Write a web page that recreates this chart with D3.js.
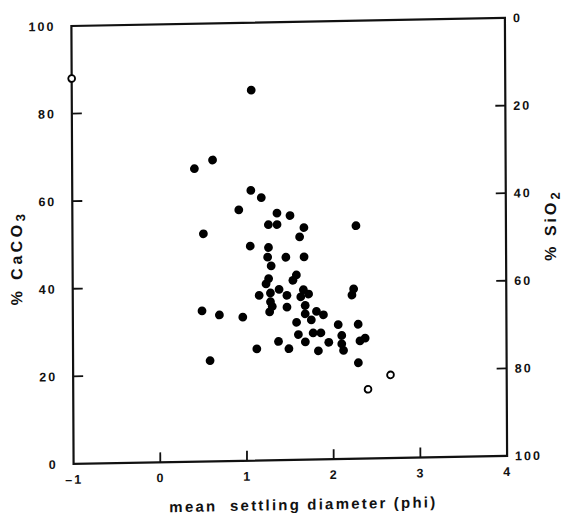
<!DOCTYPE html>
<html lang="en">
<head>
<meta charset="UTF-8">
<title>CaCO3 vs settling diameter</title>
<script src="https://d3js.org/d3.v7.min.js"></script>
<style>
  body { margin: 0; background: #fff; }
  text { font-family: "Liberation Sans", Arial, sans-serif; font-weight: bold; fill: #111; }
</style>
</head>
<body>
<div id="chart"></div>
<script>
// filled circles: mean settling diameter (phi) and % CaCO3
var filledX = [1.07, 0.41, 0.62, 1.06, 1.18, 0.92, 1.36, 1.51, 1.26, 1.36, 2.27, 1.67, 1.62, 0.51,
  1.05, 1.26, 1.25, 1.46, 1.67, 1.29, 1.58, 1.54, 1.26, 1.23, 2.24, 2.22, 1.15, 1.28, 1.38, 1.47,
  1.66, 1.72, 1.63, 1.28, 1.30, 1.47, 1.27, 0.49, 0.69, 0.96, 1.68, 1.68, 1.81, 1.89, 1.75, 1.58,
  2.06, 2.29, 1.60, 1.77, 1.86, 2.10, 2.31, 2.37, 1.37, 1.68, 1.95, 2.10, 2.12, 1.12, 1.49, 1.83,
  0.58, 2.29];
var filledY = [84.6, 66.9, 68.8, 61.7, 60.0, 57.3, 56.4, 55.8, 53.8, 53.8, 53.2, 53.0, 50.9, 52.0,
  49.0, 48.6, 46.4, 46.3, 46.3, 44.4, 42.2, 41.0, 41.5, 40.3, 38.8, 37.4, 37.7, 38.2, 39.0, 37.6,
  38.8, 37.8, 37.2, 36.2, 35.1, 34.9, 33.9, 34.4, 33.4, 32.8, 35.2, 33.3, 33.8, 33.0, 31.9, 31.4,
  30.7, 30.7, 28.6, 28.9, 28.9, 28.2, 26.9, 27.5, 27.1, 26.9, 26.7, 26.3, 24.8, 25.5, 25.4, 24.8,
  23.0, 21.9];
// open circles
var openX = [-1, 2.66, 2.40];
var openY = [88, 19.0, 15.8];

var xTicks = [-1, 0, 1, 2, 3, 4];
var yTicks = [0, 20, 40, 60, 80, 100];
var siTicks = [0, 20, 40, 60, 80, 100];

var W = 563, H = 517;
var plotL = 72.5, plotR = 506, plotT = 22, plotB = 460;
var tickLen = 10;

var svg = d3.select("#chart").append("svg")
  .attr("width", W)
  .attr("height", H);

// the scanned figure is slightly skewed: right side sits higher, bottom slightly to the right
var cx = 287, cy = 241, ky = 0.0185, kx = 0.005;
var root = svg.append("g")
  .attr("transform", "matrix(1," + (-ky) + "," + kx + ",1," + (-kx * cy) + "," + (ky * cx) + ")");

var x = d3.scaleLinear().domain([-1, 4]).range([plotL, plotR]);
var y = d3.scaleLinear().domain([0, 100]).range([plotB, plotT]);
var ySi = d3.scaleLinear().domain([0, 100]).range([plotT, plotB]);

// frame
root.append("rect")
  .attr("x", plotL).attr("y", plotT)
  .attr("width", plotR - plotL).attr("height", plotB - plotT)
  .attr("fill", "none").attr("stroke", "#111").attr("stroke-width", 2.2);

function styleAxis(g) {
  g.select(".domain").remove();
  g.selectAll(".tick line").remove();
  g.selectAll(".tick text")
    .style("font-family", "'Liberation Sans', Arial, sans-serif")
    .style("font-weight", "bold")
    .style("font-size", "12.5px")
    .style("letter-spacing", "2px")
    .attr("fill", "#111");
}

root.append("g")
  .attr("transform", "translate(" + plotL + ",0)")
  .call(d3.axisLeft(y).tickValues(yTicks).tickSize(0).tickPadding(16))
  .call(styleAxis);

root.append("g")
  .attr("transform", "translate(0," + plotB + ")")
  .call(d3.axisBottom(x).tickValues(xTicks).tickSize(0).tickPadding(11)
    .tickFormat(function (d) { return d < 0 ? "\u2013" + Math.abs(d) : d; }))
  .call(styleAxis);

root.append("g")
  .attr("transform", "translate(" + plotR + ",0)")
  .call(d3.axisRight(ySi).tickValues(siTicks).tickSize(0).tickPadding(8))
  .call(styleAxis);

// inward tick marks (not at the frame corners)
var marks = root.append("g").attr("stroke", "#111").attr("stroke-width", 1.8);
marks.selectAll("line.ly")
  .data(yTicks.filter(function (d) { return d > 0 && d < 100; }))
  .enter().append("line").attr("class", "ly")
  .attr("x1", plotL).attr("x2", plotL + tickLen)
  .attr("y1", function (d) { return y(d); }).attr("y2", function (d) { return y(d); });
marks.selectAll("line.ry")
  .data(siTicks.filter(function (d) { return d > 0 && d < 100; }))
  .enter().append("line").attr("class", "ry")
  .attr("x1", plotR).attr("x2", plotR - tickLen)
  .attr("y1", function (d) { return ySi(d); }).attr("y2", function (d) { return ySi(d); });
marks.selectAll("line.bx")
  .data(xTicks.filter(function (d) { return d > -1 && d < 4; }))
  .enter().append("line").attr("class", "bx")
  .attr("x1", function (d) { return x(d); }).attr("x2", function (d) { return x(d); })
  .attr("y1", plotB).attr("y2", plotB - tickLen);

// points
root.append("g").selectAll("circle")
  .data(filledX.map(function (d, i) { return [d, filledY[i]]; }))
  .enter().append("circle")
  .attr("cx", function (d) { return x(d[0]); })
  .attr("cy", function (d) { return y(d[1]); })
  .attr("r", 4.4)
  .attr("fill", "#000");

root.append("g").selectAll("circle")
  .data(openX.map(function (d, i) { return [d, openY[i]]; }))
  .enter().append("circle")
  .attr("cx", function (d) { return x(d[0]); })
  .attr("cy", function (d) { return y(d[1]); })
  .attr("r", 3.4)
  .attr("fill", "#fff")
  .attr("stroke", "#000")
  .attr("stroke-width", 1.8);

// axis titles
root.append("text")
  .attr("x", 302).attr("y", 510)
  .attr("text-anchor", "middle")
  .style("font-size", "15px")
  .style("letter-spacing", "2.2px")
  .style("white-space", "pre")
  .text("mean  settling diameter (phi)");

var lt = root.append("text")
  .attr("transform", "translate(22,253) rotate(-90)")
  .attr("text-anchor", "middle")
  .style("font-size", "16px")
  .style("letter-spacing", "3.5px");
lt.append("tspan").text("% CaCO");
lt.append("tspan").attr("dy", 3).style("font-size", "13px").text("3");

var rt = root.append("text")
  .attr("transform", "translate(556,230) rotate(-90)")
  .attr("text-anchor", "middle")
  .style("font-size", "16px")
  .style("letter-spacing", "3px");
rt.append("tspan").text("% SiO");
rt.append("tspan").attr("dy", 4).style("font-size", "13px").text("2");
</script>
</body>
</html>
